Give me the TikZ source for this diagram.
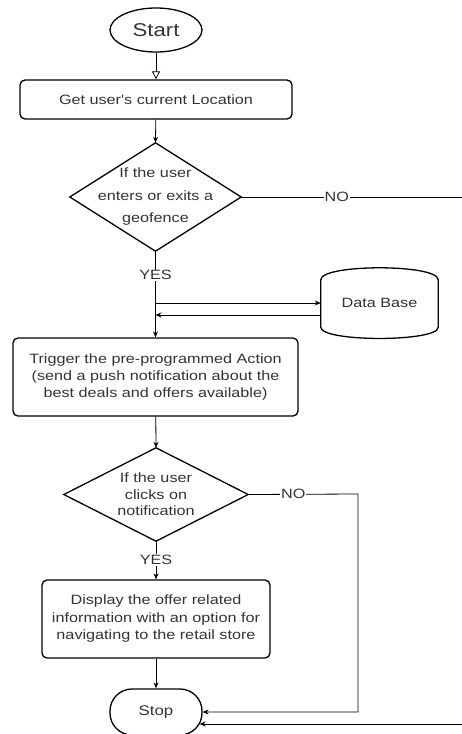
\documentclass[tikz,border=0pt]{standalone}
\usepackage{fontspec}
\setmainfont{Liberation Sans}[FakeStretch=1.2, Ligatures=TeXOff]
\usetikzlibrary{arrows.meta,shapes.geometric}
\definecolor{ink}{HTML}{333333}
\begin{document}
\begin{tikzpicture}[x=1pt,y=-1pt,
  every node/.style={font=\fontsize{13.5}{17.5}\selectfont, text=ink, align=center},
  proc/.style={draw=black, line width=1.3pt, rounded corners=5pt, inner sep=0pt},
  frame/.style={draw=black, line width=1.3pt},
  slot/.style={inner sep=0pt},
  link/.style={draw=black, line width=0.8pt},
  flow/.style={link, -{Stealth[length=6pt,width=5pt]}},
  lbl/.style={fill=white, inner sep=1pt}]
\useasboundingbox (0,0) rectangle (462,734);

% terminals
\node[frame, ellipse, minimum width=92pt, minimum height=44pt, inner sep=0pt,
      font=\fontsize{18.5}{20}\selectfont] (start) at (156,30) {Start};
\node[frame, rounded corners=22pt, minimum width=92pt, minimum height=46pt,
      inner sep=0pt, font=\fontsize{14}{16}\selectfont] (stop) at (156,712) {Stop};

% process boxes
\node[proc, minimum width=272pt, minimum height=39pt] (get) at (156,99.5)
  {Get user's current Location};
\node[proc, minimum width=285pt, minimum height=78pt] (trig) at (155.5,377)
  {Trigger the pre-programmed Action\\(send a push notification about the\\best deals and offers available)};
\node[proc, minimum width=228pt, minimum height=78pt] (disp) at (156,619)
  {Display the offer related\\information with an option for\\navigating to the retail store};

% decisions
\node[slot, minimum width=171pt, minimum height=108pt,
      font=\fontsize{13.5}{22.5}\selectfont] (fence) at (155.5,197)
  {If the user\\enters or exits a\\geofence};
\draw[frame, line join=miter] (fence.north) -- (fence.east) -- (fence.south) -- (fence.west) -- cycle;
\node[slot, minimum width=184pt, minimum height=93pt,
      font=\fontsize{13.5}{16.5}\selectfont] (click) at (156,494.5)
  {If the user\\clicks on\\notification};
\draw[frame, line join=miter] (click.north) -- (click.east) -- (click.south) -- (click.west) -- cycle;

% database cylinder
\node[slot, minimum width=117pt, minimum height=70pt] (db) at (379.5,303) {Data Base};
\draw[frame] ([yshift=-12pt]db.north west)
  .. controls ++(0,-16) and ++(0,-16) .. ([yshift=-12pt]db.north east)
  -- ([yshift=11pt]db.south east)
  .. controls ++(0,15) and ++(0,15) .. ([yshift=11pt]db.south west) -- cycle;

% connectors
\coordinate (tap) at (fence.south |- db.west);
\coordinate (farright) at (480,197);
\coordinate (bend) at (358,494);

\draw[link, -{Triangle[open,length=8pt,width=8pt]}] (start) -- (get);
\draw[flow] (get) -- (fence.north);
\draw[flow] (fence.south) -- node[lbl, pos=0.28] {YES} (trig);
\draw[flow] (tap) -- (db.west);
\draw[flow] ([yshift=-12pt]db.west) -- ([yshift=-12pt]tap);
\draw[flow] (trig) -- (click.north);
\draw[flow] (click.south) -- node[lbl, pos=0.49] {YES} (disp);
\draw[flow] (disp) -- (stop);
\draw[flow] (click.east) -- node[lbl, pos=0.41] {NO} (bend) |- (stop.east);
\draw[flow] (fence.east) -- node[lbl, pos=0.40] {NO} (farright)
  |- ([shift={(-3pt,-12pt)}]stop.east);
\end{tikzpicture}
\end{document}
